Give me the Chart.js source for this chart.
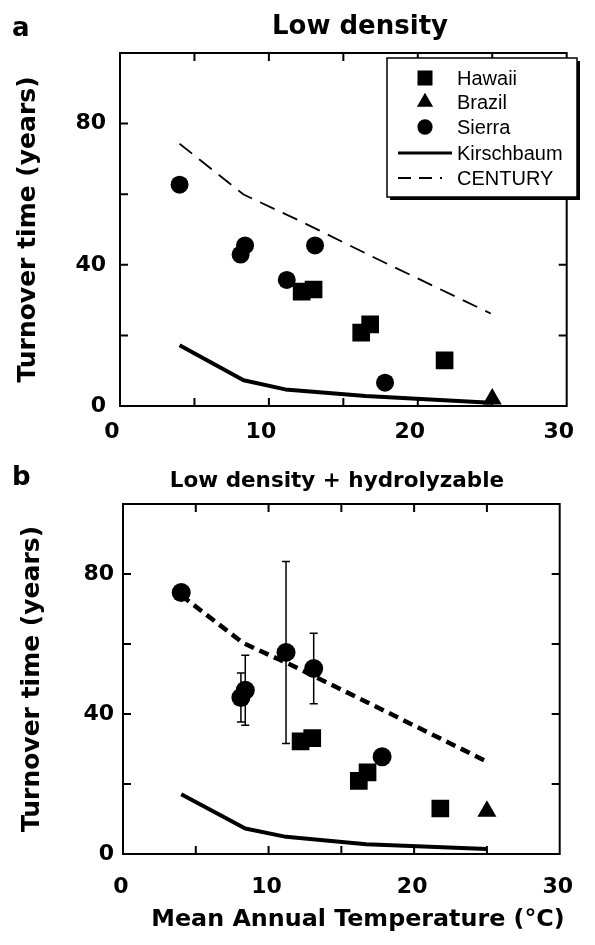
<!DOCTYPE html>
<html>
<head>
<meta charset="utf-8">
<script src="https://cdn.jsdelivr.net/npm/chart.js@4.4.0/dist/chart.umd.min.js"></script>
<style>
  body { margin: 0; background: #fff; }
  canvas { position: absolute; left: 0; }
  #chartA { top: 0; }
  #chartB { top: 460px; }
</style>
</head>
<body>
<canvas id="chartA" width="595" height="460"></canvas>
<canvas id="chartB" width="595" height="485"></canvas>
<script>
// tick labels
var xTicks = [0, 10, 20, 30];
var yTicks = [0, 40, 80];

// site temperatures (deg C)
var hawaiiT = [12.2, 13.0, 16.2, 16.8, 21.8];
var brazilT = [25.0];
var sierraT = [4.0, 8.1, 8.4, 11.2, 13.1, 17.8];

// panel a: low density turnover (years)
var hawaiiA = [32.4, 33.0, 20.8, 23.1, 12.9];
var brazilA = [2.0];
var sierraA = [62.7, 42.9, 45.5, 35.7, 45.5, 6.6];
var kirschTA = [4.0, 8.3, 11.1, 16.5, 24.9];
var kirschA = [17.2, 7.3, 4.7, 2.8, 0.9];
var centuryTA = [4.0, 8.3, 12.1, 17.1, 24.9];
var centuryA = [74.3, 59.9, 52.4, 42.0, 26.2];

// panel b: low density + hydrolyzable
var hawaiiB = [32.2, 33.1, 20.9, 23.3, 13.0];
var brazilB = [12.2];
var sierraB = [74.7, 44.7, 46.8, 57.6, 53.0, 27.8];
var sierraErrB = [0, 7.0, 10.0, 26.0, 10.1, 0];
var kirschTB = [4.0, 8.4, 11.2, 16.7, 25.0];
var kirschB = [17.1, 7.3, 4.9, 2.8, 1.4];
var centuryTB = [4.0, 8.25, 11.7, 16.8, 25.0];
var centuryB = [73.9, 60.3, 53.7, 43.3, 26.4];

var BOLD = '"DejaVu Sans", sans-serif';

function toPts(xs, ys) {
  return xs.map(function (x, i) { return { x: x, y: ys[i] }; });
}

function pointSet(label, xs, ys, style, r) {
  return {
    label: label, data: toPts(xs, ys), pointStyle: style, pointRadius: r,
    backgroundColor: '#000', borderColor: '#000', pointBorderWidth: 0, showLine: false
  };
}

function lineSet(label, xs, ys, width, dash) {
  return {
    label: label, data: toPts(xs, ys), showLine: true, pointRadius: 0,
    borderColor: '#000', borderWidth: width, borderDash: dash, fill: false,
    borderCapStyle: 'butt', borderJoinStyle: 'round'
  };
}

function marker(ctx, style, x, y, r) {
  ctx.beginPath();
  if (style === 'rect') {
    var h = r * Math.SQRT1_2;
    ctx.rect(x - h, y - h, 2 * h, 2 * h);
  } else if (style === 'triangle') {
    for (var k = 0; k < 3; k++) {
      var a = k * 2 * Math.PI / 3;
      var px = x + Math.sin(a) * r, py = y - Math.cos(a) * r;
      if (k === 0) ctx.moveTo(px, py); else ctx.lineTo(px, py);
    }
    ctx.closePath();
  } else {
    ctx.arc(x, y, r, 0, 2 * Math.PI);
  }
  ctx.fill();
}

var framePlugin = {
  id: 'frame',
  afterDatasetsDraw: function (chart, args, opts) {
    if (!opts.err) return;
    var ctx = chart.ctx, xs = chart.scales.x, ys = chart.scales.y;
    var pts = chart.data.datasets[2].data;
    ctx.save();
    ctx.strokeStyle = '#000';
    ctx.lineWidth = 1.5;
    pts.forEach(function (p, i) {
      var e = opts.err[i];
      if (!e) return;
      var px = xs.getPixelForValue(p.x);
      var t = ys.getPixelForValue(p.y + e), b = ys.getPixelForValue(p.y - e);
      ctx.beginPath();
      ctx.moveTo(px, t); ctx.lineTo(px, b);
      ctx.moveTo(px - 4, t); ctx.lineTo(px + 4, t);
      ctx.moveTo(px - 4, b); ctx.lineTo(px + 4, b);
      ctx.stroke();
    });
    ctx.restore();
  },
  afterDraw: function (chart, args, opts) {
    var ctx = chart.ctx, a = chart.chartArea, xs = chart.scales.x, ys = chart.scales.y;
    ctx.save();
    ctx.strokeStyle = '#000';
    ctx.lineWidth = 2;
    ctx.strokeRect(a.left, a.top, a.right - a.left, a.bottom - a.top);
    ctx.beginPath();
    [5, 10, 15, 20, 25].forEach(function (v) {
      var px = xs.getPixelForValue(v);
      ctx.moveTo(px, a.bottom); ctx.lineTo(px, a.bottom - 8);
      ctx.moveTo(px, a.top); ctx.lineTo(px, a.top + 8);
    });
    [20, 40, 60, 80].forEach(function (v) {
      var py = ys.getPixelForValue(v);
      ctx.moveTo(a.left, py); ctx.lineTo(a.left + 8, py);
      ctx.moveTo(a.right, py); ctx.lineTo(a.right - 8, py);
    });
    ctx.stroke();

    // panel letter and title
    ctx.fillStyle = '#000';
    ctx.textBaseline = 'alphabetic';
    ctx.textAlign = 'left';
    ctx.font = 'bold 26px ' + BOLD;
    ctx.fillText(opts.letter, 12, opts.letterY);
    ctx.textAlign = 'center';
    ctx.font = 'bold ' + opts.titleSize + 'px ' + BOLD;
    ctx.fillText(opts.title, opts.titleX, opts.titleY);

    if (opts.xTitle) {
      ctx.textBaseline = 'middle';
      ctx.font = 'bold 23.8px ' + BOLD;
      ctx.fillText(opts.xTitle, opts.xTitleX, opts.xTitleY);
    }

    if (opts.legend) {
      var L = opts.legend;
      ctx.fillRect(L.x + 3, L.y + 3, L.w, L.h);
      ctx.fillStyle = '#fff';
      ctx.fillRect(L.x, L.y, L.w, L.h);
      ctx.lineWidth = 1.5;
      ctx.strokeRect(L.x, L.y, L.w, L.h);
      ctx.fillStyle = '#000';
      ctx.textAlign = 'left';
      ctx.textBaseline = 'middle';
      ctx.font = '20px "Liberation Sans", Arial, sans-serif';
      chart.data.datasets.forEach(function (ds, i) {
        var ry = L.rows[i];
        if (ds.showLine) {
          ctx.beginPath();
          ctx.lineWidth = i === 3 ? 3 : 1.8;
          ctx.setLineDash(i === 3 ? [] : [13, 8, 13, 8, 2, 40]);
          ctx.moveTo(L.x + 11, ry);
          ctx.lineTo(L.x + 65, ry);
          ctx.stroke();
          ctx.setLineDash([]);
        } else {
          marker(ctx, ds.pointStyle, L.x + 38, ry, ds.pointRadius * 0.85);
        }
        ctx.fillText(ds.label, L.x + 70, ry + 1);
      });
    }
    ctx.restore();
  }
};

function scales(p) {
  var tickFont = { family: BOLD, weight: 'bold', size: 22 };
  return {
    x: {
      type: 'linear', min: 0, max: 30,
      grid: { display: false, drawTicks: false }, border: { display: false },
      ticks: {
        stepSize: 10, padding: p.xPad, labelOffset: p.xOff, color: '#000', font: tickFont,
        maxRotation: 0, autoSkip: false,
        callback: function (v) { return xTicks.indexOf(v) >= 0 ? String(v) : ''; }
      },
      afterFit: function (s) { s.height = p.xH; }
    },
    y: {
      type: 'linear', min: 0, max: 100,
      grid: { display: false, drawTicks: false }, border: { display: false },
      ticks: {
        stepSize: 20, padding: p.yPad, color: '#000', font: tickFont, autoSkip: false,
        callback: function (v) { return yTicks.indexOf(v) >= 0 ? String(v) : ''; }
      },
      title: {
        display: true, text: 'Turnover time (years)', color: '#000',
        font: { family: BOLD, weight: 'bold', size: 25 }, padding: { top: p.yTitlePad, bottom: 0 }
      },
      afterFit: function (s) { s.width = p.yW; }
    }
  };
}

var chartA = new Chart(document.getElementById('chartA'), {
  type: 'scatter',
  data: {
    datasets: [
      pointSet('Hawaii', hawaiiT, hawaiiA, 'rect', 12.5),
      pointSet('Brazil', brazilT, brazilA, 'triangle', 11),
      pointSet('Sierra', sierraT, sierraA, 'circle', 9),
      lineSet('Kirschbaum', kirschTA, kirschA, 4, []),
      lineSet('CENTURY', centuryTA, centuryA, 1.8, [16, 9])
    ]
  },
  options: {
    responsive: false, animation: false, events: [],
    layout: { padding: { top: 53, right: 18, bottom: 0, left: 0 } },
    plugins: {
      legend: { display: false }, tooltip: { enabled: false },
      frame: {
        letter: 'a', letterY: 36, title: 'Low density', titleSize: 26, titleX: 360, titleY: 34,
        legend: { x: 387, y: 58, w: 190, h: 139, rows: [78, 102, 127, 153, 178] }
      }
    },
    scales: scales({ xPad: 13, xOff: -8, xH: 54, yPad: 14, yW: 120, yTitlePad: 13 })
  },
  plugins: [framePlugin]
});

var chartB = new Chart(document.getElementById('chartB'), {
  type: 'scatter',
  data: {
    datasets: [
      pointSet('Hawaii', hawaiiT, hawaiiB, 'rect', 12.5),
      pointSet('Brazil', brazilT, brazilB, 'triangle', 11),
      pointSet('Sierra', sierraT, sierraB, 'circle', 9.5),
      lineSet('Kirschbaum', kirschTB, kirschB, 4, []),
      lineSet('CENTURY', centuryTB, centuryB, 4.5, [10, 6])
    ]
  },
  options: {
    responsive: false, animation: false, events: [],
    layout: { padding: { top: 44, right: 12, bottom: 0, left: 0 } },
    plugins: {
      legend: { display: false }, tooltip: { enabled: false },
      frame: {
        letter: 'b', letterY: 25, title: 'Low density + hydrolyzable', titleSize: 21.5,
        titleX: 337, titleY: 27, err: sierraErrB,
        xTitle: 'Mean Annual Temperature (\u00B0C)', xTitleX: 358, xTitleY: 460
      }
    },
    scales: scales({ xPad: 20, xOff: -2, xH: 91, yPad: 9, yW: 123, yTitlePad: 17 })
  },
  plugins: [framePlugin]
});
</script>
</body>
</html>
